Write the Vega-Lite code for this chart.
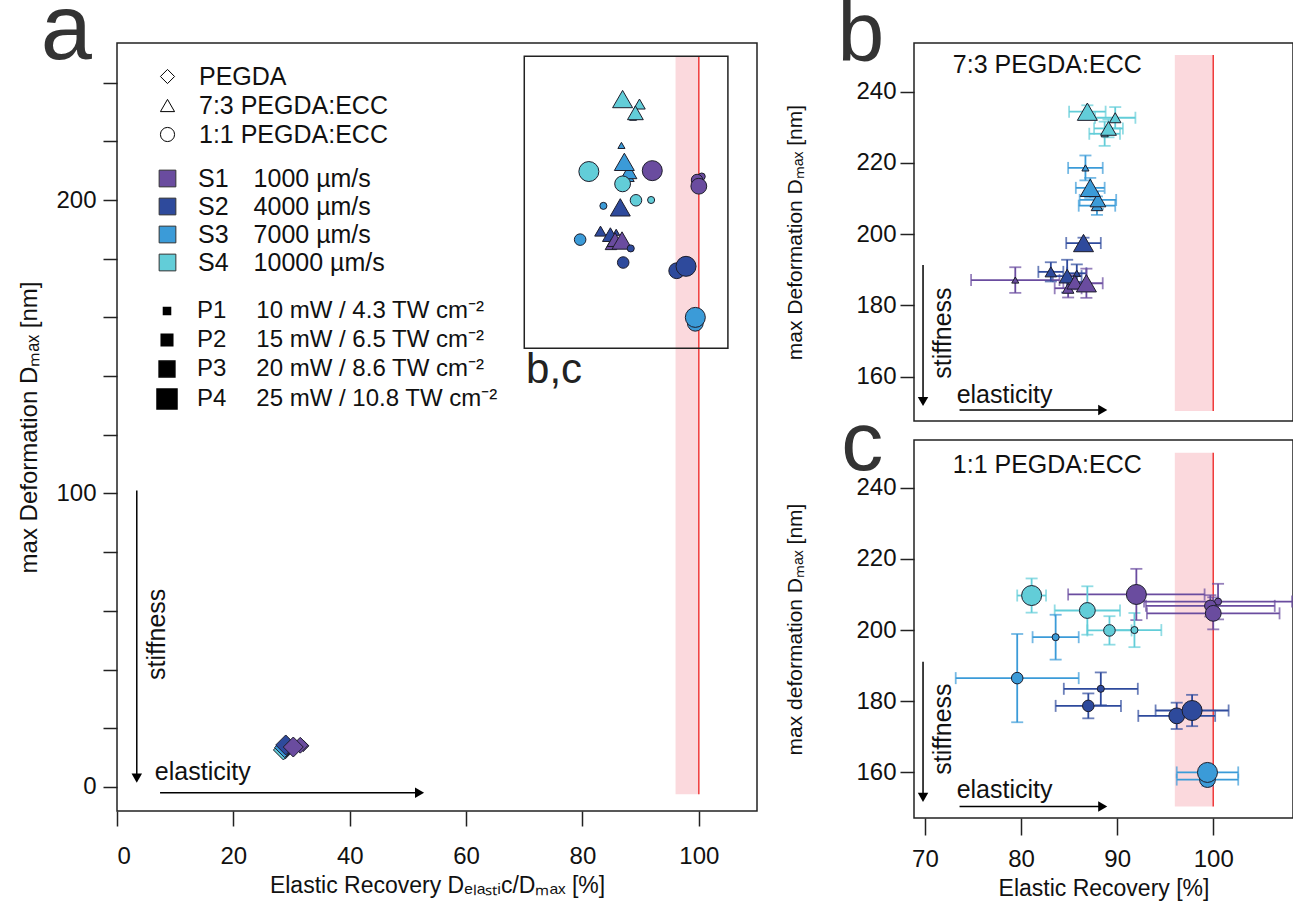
{
  "$schema": "https://vega.github.io/schema/vega-lite/v6.json",
  "autosize": "none",
  "padding": {"left": 117, "top": 43, "right": 1176, "bottom": 869},
  "background": "white",
  "config": {
    "font": "Liberation Sans",
    "view": {"stroke": "#222", "strokeWidth": 1.5},
    "axis": {"grid": false, "domain": false, "labelFont": "Liberation Sans", "titleFont": "Liberation Sans", "labelColor": "#111", "titleColor": "#111", "tickColor": "#222", "tickWidth": 1.5, "labelFontSize": 24, "titleFontSize": 22, "titleFontWeight": "normal"},
    "legend": {"labelFont": "Liberation Sans", "labelColor": "#111", "labelLimit": 500}
  },
  "datasets": {
    "pts": [
      {"f": "PEGDA", "s": "S4", "mW": 10, "x": 28.8, "y": 13.2},
      {"f": "PEGDA", "s": "S4", "mW": 15, "x": 29.2, "y": 12.9},
      {"f": "PEGDA", "s": "S4", "mW": 20, "x": 28.9, "y": 12.2},
      {"f": "PEGDA", "s": "S4", "mW": 25, "x": 28.6, "y": 12.6},
      {"f": "PEGDA", "s": "S3", "mW": 10, "x": 29.3, "y": 13.6},
      {"f": "PEGDA", "s": "S3", "mW": 15, "x": 28.7, "y": 13.9},
      {"f": "PEGDA", "s": "S3", "mW": 20, "x": 29.1, "y": 13.0},
      {"f": "PEGDA", "s": "S3", "mW": 25, "x": 28.8, "y": 13.4},
      {"f": "PEGDA", "s": "S2", "mW": 10, "x": 29.6, "y": 14.4},
      {"f": "PEGDA", "s": "S2", "mW": 15, "x": 28.9, "y": 14.6},
      {"f": "PEGDA", "s": "S2", "mW": 20, "x": 29.4, "y": 14.0},
      {"f": "PEGDA", "s": "S2", "mW": 25, "x": 29.0, "y": 14.3},
      {"f": "PEGDA", "s": "S1", "mW": 10, "x": 30.8, "y": 13.2},
      {"f": "PEGDA", "s": "S1", "mW": 15, "x": 32.0, "y": 14.0},
      {"f": "PEGDA", "s": "S1", "mW": 20, "x": 31.5, "y": 14.2},
      {"f": "PEGDA", "s": "S1", "mW": 25, "x": 30.3, "y": 13.6},
      {"f": "7:3 PEGDA:ECC", "s": "S4", "mW": 10, "x": 88.7, "y": 228.2, "ex": 1.6, "ey": 3.4},
      {"f": "7:3 PEGDA:ECC", "s": "S4", "mW": 15, "x": 89.8, "y": 232.7, "ex": 2.1, "ey": 3.0},
      {"f": "7:3 PEGDA:ECC", "s": "S4", "mW": 20, "x": 89.1, "y": 229.7, "ex": 1.5, "ey": 2.5},
      {"f": "7:3 PEGDA:ECC", "s": "S4", "mW": 25, "x": 86.9, "y": 234.4, "ex": 1.9, "ey": 1.8},
      {"f": "7:3 PEGDA:ECC", "s": "S3", "mW": 10, "x": 86.7, "y": 218.6, "ex": 1.8, "ey": 3.5},
      {"f": "7:3 PEGDA:ECC", "s": "S3", "mW": 15, "x": 87.9, "y": 208.0, "ex": 1.9, "ey": 2.6},
      {"f": "7:3 PEGDA:ECC", "s": "S3", "mW": 20, "x": 88.0, "y": 209.6, "ex": 1.9, "ey": 2.5},
      {"f": "7:3 PEGDA:ECC", "s": "S3", "mW": 25, "x": 87.2, "y": 213.0, "ex": 1.5, "ey": 2.8},
      {"f": "7:3 PEGDA:ECC", "s": "S2", "mW": 10, "x": 85.8, "y": 189.0, "ex": 1.0, "ey": 2.5},
      {"f": "7:3 PEGDA:ECC", "s": "S2", "mW": 15, "x": 83.1, "y": 189.4, "ex": 1.3, "ey": 2.7},
      {"f": "7:3 PEGDA:ECC", "s": "S2", "mW": 20, "x": 84.8, "y": 188.2, "ex": 1.5, "ey": 4.6},
      {"f": "7:3 PEGDA:ECC", "s": "S2", "mW": 25, "x": 86.5, "y": 197.5, "ex": 1.8, "ey": 1.5},
      {"f": "7:3 PEGDA:ECC", "s": "S1", "mW": 10, "x": 79.4, "y": 187.1, "ex": 4.6, "ey": 3.6},
      {"f": "7:3 PEGDA:ECC", "s": "S1", "mW": 15, "x": 84.9, "y": 184.8, "ex": 1.4, "ey": 2.6},
      {"f": "7:3 PEGDA:ECC", "s": "S1", "mW": 20, "x": 85.6, "y": 186.5, "ex": 1.2, "ey": 2.0},
      {"f": "7:3 PEGDA:ECC", "s": "S1", "mW": 25, "x": 86.8, "y": 186.2, "ex": 1.7, "ey": 4.1},
      {"f": "1:1 PEGDA:ECC", "s": "S4", "mW": 10, "x": 91.8, "y": 200.0, "ex": 2.8, "ey": 4.8},
      {"f": "1:1 PEGDA:ECC", "s": "S4", "mW": 15, "x": 89.2, "y": 199.9, "ex": 2.3, "ey": 4.0},
      {"f": "1:1 PEGDA:ECC", "s": "S4", "mW": 20, "x": 86.9, "y": 205.5, "ex": 3.4, "ey": 6.8},
      {"f": "1:1 PEGDA:ECC", "s": "S4", "mW": 25, "x": 81.1, "y": 209.7, "ex": 1.5, "ey": 4.8},
      {"f": "1:1 PEGDA:ECC", "s": "S3", "mW": 10, "x": 83.6, "y": 198.0, "ex": 2.4, "ey": 6.3},
      {"f": "1:1 PEGDA:ECC", "s": "S3", "mW": 15, "x": 79.6, "y": 186.5, "ex": 6.4, "ey": 12.4},
      {"f": "1:1 PEGDA:ECC", "s": "S3", "mW": 20, "x": 99.4, "y": 158.0, "ex": 3.2, "ey": 1.8},
      {"f": "1:1 PEGDA:ECC", "s": "S3", "mW": 25, "x": 99.4, "y": 160.0, "ex": 3.2, "ey": 1.5},
      {"f": "1:1 PEGDA:ECC", "s": "S2", "mW": 10, "x": 88.3, "y": 183.5, "ex": 3.85, "ey": 4.6},
      {"f": "1:1 PEGDA:ECC", "s": "S2", "mW": 15, "x": 87.0, "y": 178.7, "ex": 3.4, "ey": 3.5},
      {"f": "1:1 PEGDA:ECC", "s": "S2", "mW": 20, "x": 96.2, "y": 175.9, "ex": 4.0, "ey": 3.7},
      {"f": "1:1 PEGDA:ECC", "s": "S2", "mW": 25, "x": 97.8, "y": 177.4, "ex": 3.8, "ey": 4.4},
      {"f": "1:1 PEGDA:ECC", "s": "S1", "mW": 10, "x": 100.5, "y": 208.0, "ex": 7.7, "ey": 5.0},
      {"f": "1:1 PEGDA:ECC", "s": "S1", "mW": 15, "x": 99.7, "y": 206.8, "ex": 6.7, "ey": 3.0},
      {"f": "1:1 PEGDA:ECC", "s": "S1", "mW": 20, "x": 100.0, "y": 204.7, "ex": 6.9, "ey": 4.5},
      {"f": "1:1 PEGDA:ECC", "s": "S1", "mW": 25, "x": 92.0, "y": 210.0, "ex": 7.1, "ey": 7.2}
    ]
  },
  "resolve": {"legend": {"color": "independent", "shape": "independent", "size": "independent"}},
  "bounds": "flush",
  "spacing": 157,
  "hconcat": [
    {
      "width": 640,
      "height": 768,
      "layer": [
        {
          "data": {"values": [{}]},
          "mark": {"type": "rect", "color": "#FBD9DD"},
          "encoding": {"x": {"datum": 96}, "x2": {"datum": 100}, "y": {"datum": -2.5}, "y2": {"datum": 249}}
        },
        {
          "data": {"values": [{}]},
          "mark": {"type": "rule", "color": "#F03A3A", "strokeWidth": 1.5},
          "encoding": {"x": {"datum": 100}, "y": {"datum": -2.5}, "y2": {"datum": 249}}
        },
        {
          "data": {"values": [{}]},
          "mark": {"type": "rect", "fillOpacity": 0, "stroke": "#222", "strokeWidth": 1.5},
          "encoding": {"x": {"datum": 70}, "x2": {"datum": 105}, "y": {"datum": 149.5}, "y2": {"datum": 249}}
        },
        {
          "data": {"name": "pts"},
          "mark": {"type": "point", "filled": true, "opacity": 1, "stroke": "#1d1d2b", "strokeWidth": 1},
          "encoding": {
            "x": {"field": "x", "type": "quantitative", "scale": {"domain": [0, 110], "nice": false, "zero": false},
                  "axis": {"values": [0, 20, 40, 60, 80, 100], "tickSize": 15, "labelPadding": 18, "title": "Elastic Recovery Dₑₗₐₛₜᵢc/Dₘₐₓ [%]", "titleFontSize": 23, "titlePadding": 6}},
            "y": {"field": "y", "type": "quantitative", "scale": {"domain": [-8.2, 253.5], "nice": false, "zero": false},
                  "axis": {"values": [0, 20, 40, 60, 80, 100, 120, 140, 160, 180, 200, 220, 240], "labelExpr": "datum.value % 100 === 0 ? datum.label : ''", "tickSize": 14, "labelPadding": 7, "title": "max Deformation Dₘₐₓ [nm]", "titleFontSize": 24, "titlePadding": 14}},
            "color": {"field": "s", "type": "nominal", "scale": {"domain": ["S1", "S2", "S3", "S4"], "range": ["#6A4C9F", "#2E4A9C", "#3B9BD8", "#62CDD8"]},
                      "legend": {"orient": "none", "legendX": 38, "legendY": 123, "title": null, "labelFontSize": 25, "symbolType": "square", "symbolSize": 280, "symbolStrokeColor": "#333", "symbolStrokeWidth": 1, "symbolOpacity": 1, "rowPadding": 2, "labelOffset": 18,
                                 "labelExpr": "{'S1':'S1\u20031000 µm/s','S2':'S2\u20034000 µm/s','S3':'S3\u20037000 µm/s','S4':'S4\u200310000 µm/s'}[datum.label]"}},
            "shape": {"field": "f", "type": "nominal", "scale": {"domain": ["PEGDA", "7:3 PEGDA:ECC", "1:1 PEGDA:ECC"], "range": ["diamond", "triangle-up", "circle"]},
                      "legend": {"orient": "none", "legendX": 38, "legendY": 21, "title": null, "labelFontSize": 25, "symbolSize": 200, "symbolFillColor": "white", "symbolStrokeColor": "black", "symbolStrokeWidth": 1, "rowPadding": 3, "labelOffset": 19}},
            "size": {"field": "mW", "type": "quantitative", "scale": {"type": "pow", "exponent": 2, "domain": [10, 25], "range": [50, 400], "zero": false},
                     "legend": {"orient": "none", "legendX": 38, "legendY": 256, "title": null, "values": [10, 15, 20, 25], "labelFontSize": 24, "symbolType": "square", "symbolFillColor": "black", "symbolStrokeColor": "black", "symbolOpacity": 1, "rowPadding": 5, "labelOffset": 18,
                                "labelExpr": "datum.value == 10 ? 'P1\u2003\u200510 mW / 4.3 TW cm⁻²' : datum.value == 15 ? 'P2\u2003\u200515 mW / 6.5 TW cm⁻²' : datum.value == 20 ? 'P3\u2003\u200520 mW / 8.6 TW cm⁻²' : 'P4\u2003\u200525 mW / 10.8 TW cm⁻²'"}}
          }
        },
        {
          "data": {"values": [{}]},
          "mark": {"type": "text", "text": "a", "fontSize": 92, "align": "left", "baseline": "alphabetic", "color": "#333"},
          "encoding": {"x": {"datum": -13.1}, "y": {"datum": 248.0}}
        },
        {
          "data": {"values": [{}]},
          "mark": {"type": "text", "text": "b,c", "fontSize": 42, "align": "left", "baseline": "alphabetic", "color": "#222"},
          "encoding": {"x": {"datum": 70.3}, "y": {"datum": 137.5}}
        },
        {
          "data": {"values": [{}]},
          "mark": {"type": "text", "text": "elasticity", "fontSize": 25, "align": "left", "baseline": "alphabetic", "color": "#111"},
          "encoding": {"x": {"datum": 6.5}, "y": {"datum": 2.2}}
        },
        {
          "data": {"values": [{}]},
          "mark": {"type": "text", "text": "stiffness", "fontSize": 25, "angle": 270, "align": "center", "baseline": "middle", "color": "#111"},
          "encoding": {"x": {"datum": 6.9}, "y": {"datum": 52}}
        },
        {
          "data": {"values": [{}]},
          "mark": {"type": "rule", "color": "black", "strokeWidth": 1.5},
          "encoding": {"x": {"datum": 7.4}, "x2": {"datum": 52}, "y": {"datum": -2}}
        },
        {
          "data": {"values": [{}]},
          "mark": {"type": "point", "shape": "triangle-right", "filled": true, "color": "black", "opacity": 1, "size": 110},
          "encoding": {"x": {"datum": 52}, "y": {"datum": -2}}
        },
        {
          "data": {"values": [{}]},
          "mark": {"type": "rule", "color": "black", "strokeWidth": 1.5},
          "encoding": {"x": {"datum": 3.4}, "y": {"datum": 101}, "y2": {"datum": 3}}
        },
        {
          "data": {"values": [{}]},
          "mark": {"type": "point", "shape": "triangle-down", "filled": true, "color": "black", "opacity": 1, "size": 110},
          "encoding": {"x": {"datum": 3.4}, "y": {"datum": 3}}
        }
      ]
    },
    {
      "bounds": "flush",
      "spacing": 19,
      "vconcat": [
        {
          "width": 379,
          "height": 378,
          "layer": [
            {
              "data": {"values": [{}]},
              "mark": {"type": "rect", "color": "#FBD9DD"},
              "encoding": {"x": {"datum": 96, "axis": null}, "x2": {"datum": 100}, "y": {"datum": 150.3}, "y2": {"datum": 250.3}}
            },
            {
              "data": {"values": [{}]},
              "mark": {"type": "rule", "color": "#F03A3A", "strokeWidth": 1.5},
              "encoding": {"x": {"datum": 100, "axis": null}, "y": {"datum": 150.3}, "y2": {"datum": 250.3}}
            },
            {
              "data": {"name": "pts"},
              "transform": [{"filter": "datum.f === '7:3 PEGDA:ECC'"}],
              "mark": {"type": "errorbar", "ticks": {"size": 12}, "thickness": 1.8},
              "encoding": {"x": {"field": "x", "type": "quantitative", "axis": null}, "xError": {"field": "ex"}, "y": {"field": "y", "type": "quantitative", "title": "max Deformation Dₘₐₓ [nm]"},
                           "color": {"field": "s", "type": "nominal", "legend": null, "scale": {"domain": ["S1", "S2", "S3", "S4"], "range": ["#7253B0", "#3A4FA8", "#3FA3E3", "#5CD3E3"]}}}
            },
            {
              "data": {"name": "pts"},
              "transform": [{"filter": "datum.f === '7:3 PEGDA:ECC'"}],
              "mark": {"type": "errorbar", "ticks": {"size": 12}, "thickness": 1.8},
              "encoding": {"y": {"field": "y", "type": "quantitative", "title": "max Deformation Dₘₐₓ [nm]"}, "yError": {"field": "ey"}, "x": {"field": "x", "type": "quantitative", "axis": null},
                           "color": {"field": "s", "type": "nominal", "legend": null}}
            },
            {
              "data": {"name": "pts"},
              "transform": [{"filter": "datum.f === '7:3 PEGDA:ECC'"}],
              "mark": {"type": "point", "filled": true, "opacity": 1, "stroke": "#1d1d2b", "strokeWidth": 1},
              "encoding": {
                "x": {"field": "x", "type": "quantitative", "scale": {"domain": [68.86, 108.3], "nice": false, "zero": false}, "axis": null},
                "y": {"field": "y", "type": "quantitative", "title": "max Deformation Dₘₐₓ [nm]", "scale": {"domain": [147.5, 253.7], "nice": false, "zero": false},
                      "axis": {"values": [160, 180, 200, 220, 240], "tickSize": 14, "labelPadding": 4, "title": "max Deformation Dₘₐₓ [nm]", "titleFontSize": 21, "titlePadding": 50}},
                "fill": {"field": "s", "type": "nominal", "legend": null, "scale": {"domain": ["S1", "S2", "S3", "S4"], "range": ["#6A4C9F", "#2E4A9C", "#3B9BD8", "#62CDD8"]}},
                "shape": {"field": "f", "type": "nominal", "legend": null, "scale": {"domain": ["PEGDA", "7:3 PEGDA:ECC", "1:1 PEGDA:ECC"], "range": ["diamond", "triangle-up", "circle"]}},
                "size": {"field": "mW", "type": "quantitative", "legend": null, "scale": {"type": "pow", "exponent": 2, "domain": [10, 25], "range": [50, 400], "zero": false}}
              }
            },
            {
              "data": {"values": [{}]},
              "mark": {"type": "text", "text": "b", "fontSize": 84, "align": "left", "baseline": "alphabetic", "color": "#333"},
              "encoding": {"x": {"datum": 60.9, "axis": null}, "y": {"datum": 248.6}}
            },
            {
              "data": {"values": [{}]},
              "mark": {"type": "text", "text": "7:3 PEGDA:ECC", "fontSize": 25, "align": "left", "baseline": "alphabetic", "color": "#111"},
              "encoding": {"x": {"datum": 72.9, "axis": null}, "y": {"datum": 245.2}}
            },
            {
              "data": {"values": [{}]},
              "mark": {"type": "text", "text": "elasticity", "fontSize": 25, "align": "left", "baseline": "alphabetic", "color": "#111"},
              "encoding": {"x": {"datum": 73.3, "axis": null}, "y": {"datum": 152.6}}
            },
            {
              "data": {"values": [{}]},
              "mark": {"type": "text", "text": "stiffness", "fontSize": 25, "angle": 270, "align": "center", "baseline": "middle", "color": "#111"},
              "encoding": {"x": {"datum": 71.9, "axis": null}, "y": {"datum": 172.2}}
            },
            {
              "data": {"values": [{}]},
              "mark": {"type": "rule", "color": "black", "strokeWidth": 1.5},
              "encoding": {"x": {"datum": 73.6, "axis": null}, "x2": {"datum": 88.5}, "y": {"datum": 150.6}}
            },
            {
              "data": {"values": [{}]},
              "mark": {"type": "point", "shape": "triangle-right", "filled": true, "color": "black", "opacity": 1, "size": 110},
              "encoding": {"x": {"datum": 88.5, "axis": null}, "y": {"datum": 150.6}}
            },
            {
              "data": {"values": [{}]},
              "mark": {"type": "rule", "color": "black", "strokeWidth": 1.5},
              "encoding": {"x": {"datum": 69.8, "axis": null}, "y": {"datum": 191.3}, "y2": {"datum": 153}}
            },
            {
              "data": {"values": [{}]},
              "mark": {"type": "point", "shape": "triangle-down", "filled": true, "color": "black", "opacity": 1, "size": 110},
              "encoding": {"x": {"datum": 69.8, "axis": null}, "y": {"datum": 153}}
            }
          ]
        },
        {
          "width": 379,
          "height": 378,
          "layer": [
            {
              "data": {"values": [{}]},
              "mark": {"type": "rect", "color": "#FBD9DD"},
              "encoding": {"x": {"datum": 96}, "x2": {"datum": 100}, "y": {"datum": 150.4}, "y2": {"datum": 249.8}}
            },
            {
              "data": {"values": [{}]},
              "mark": {"type": "rule", "color": "#F03A3A", "strokeWidth": 1.5},
              "encoding": {"x": {"datum": 100}, "y": {"datum": 150.4}, "y2": {"datum": 249.8}}
            },
            {
              "data": {"name": "pts"},
              "transform": [{"filter": "datum.f === '1:1 PEGDA:ECC'"}],
              "mark": {"type": "errorbar", "ticks": {"size": 12}, "thickness": 1.8},
              "encoding": {"x": {"field": "x", "type": "quantitative", "title": "Elastic Recovery [%]"}, "xError": {"field": "ex"}, "y": {"field": "y", "type": "quantitative", "title": "max deformation Dₘₐₓ [nm]"},
                           "color": {"field": "s", "type": "nominal", "legend": null, "scale": {"domain": ["S1", "S2", "S3", "S4"], "range": ["#7253B0", "#3A4FA8", "#3FA3E3", "#5CD3E3"]}}}
            },
            {
              "data": {"name": "pts"},
              "transform": [{"filter": "datum.f === '1:1 PEGDA:ECC'"}],
              "mark": {"type": "errorbar", "ticks": {"size": 12}, "thickness": 1.8},
              "encoding": {"y": {"field": "y", "type": "quantitative", "title": "max deformation Dₘₐₓ [nm]"}, "yError": {"field": "ey"}, "x": {"field": "x", "type": "quantitative", "title": "Elastic Recovery [%]"},
                           "color": {"field": "s", "type": "nominal", "legend": null}}
            },
            {
              "data": {"name": "pts"},
              "transform": [{"filter": "datum.f === '1:1 PEGDA:ECC'"}],
              "mark": {"type": "point", "filled": true, "opacity": 1, "stroke": "#1d1d2b", "strokeWidth": 1},
              "encoding": {
                "x": {"field": "x", "type": "quantitative", "title": "Elastic Recovery [%]", "scale": {"domain": [68.86, 108.3], "nice": false, "zero": false},
                      "axis": {"values": [70, 80, 90, 100], "tickSize": 17, "labelPadding": 12, "title": "Elastic Recovery [%]", "titleFontSize": 23, "titlePadding": 6}},
                "y": {"field": "y", "type": "quantitative", "title": "max deformation Dₘₐₓ [nm]", "scale": {"domain": [147.2, 253.4], "nice": false, "zero": false},
                      "axis": {"values": [160, 180, 200, 220, 240], "tickSize": 14, "labelPadding": 4, "title": "max deformation Dₘₐₓ [nm]", "titleFontSize": 21, "titlePadding": 50}},
                "fill": {"field": "s", "type": "nominal", "legend": null, "scale": {"domain": ["S1", "S2", "S3", "S4"], "range": ["#6A4C9F", "#2E4A9C", "#3B9BD8", "#62CDD8"]}},
                "shape": {"field": "f", "type": "nominal", "legend": null, "scale": {"domain": ["PEGDA", "7:3 PEGDA:ECC", "1:1 PEGDA:ECC"], "range": ["diamond", "triangle-up", "circle"]}},
                "size": {"field": "mW", "type": "quantitative", "legend": null, "scale": {"type": "pow", "exponent": 2, "domain": [10, 25], "range": [50, 400], "zero": false}}
              }
            },
            {
              "data": {"values": [{}]},
              "mark": {"type": "text", "text": "c", "fontSize": 84, "align": "left", "baseline": "alphabetic", "color": "#333"},
              "encoding": {"x": {"datum": 61.3}, "y": {"datum": 245.0}}
            },
            {
              "data": {"values": [{}]},
              "mark": {"type": "text", "text": "1:1 PEGDA:ECC", "fontSize": 25, "align": "left", "baseline": "alphabetic", "color": "#111"},
              "encoding": {"x": {"datum": 72.9}, "y": {"datum": 244.0}}
            },
            {
              "data": {"values": [{}]},
              "mark": {"type": "text", "text": "elasticity", "fontSize": 25, "align": "left", "baseline": "alphabetic", "color": "#111"},
              "encoding": {"x": {"datum": 73.3}, "y": {"datum": 152.8}}
            },
            {
              "data": {"values": [{}]},
              "mark": {"type": "text", "text": "stiffness", "fontSize": 25, "angle": 270, "align": "center", "baseline": "middle", "color": "#111"},
              "encoding": {"x": {"datum": 71.9}, "y": {"datum": 172.2}}
            },
            {
              "data": {"values": [{}]},
              "mark": {"type": "rule", "color": "black", "strokeWidth": 1.5},
              "encoding": {"x": {"datum": 73.6}, "x2": {"datum": 88.5}, "y": {"datum": 150.4}}
            },
            {
              "data": {"values": [{}]},
              "mark": {"type": "point", "shape": "triangle-right", "filled": true, "color": "black", "opacity": 1, "size": 110},
              "encoding": {"x": {"datum": 88.5}, "y": {"datum": 150.4}}
            },
            {
              "data": {"values": [{}]},
              "mark": {"type": "rule", "color": "black", "strokeWidth": 1.5},
              "encoding": {"x": {"datum": 69.8}, "y": {"datum": 191.1}, "y2": {"datum": 153}}
            },
            {
              "data": {"values": [{}]},
              "mark": {"type": "point", "shape": "triangle-down", "filled": true, "color": "black", "opacity": 1, "size": 110},
              "encoding": {"x": {"datum": 69.8}, "y": {"datum": 153}}
            }
          ]
        }
      ]
    }
  ]
}
